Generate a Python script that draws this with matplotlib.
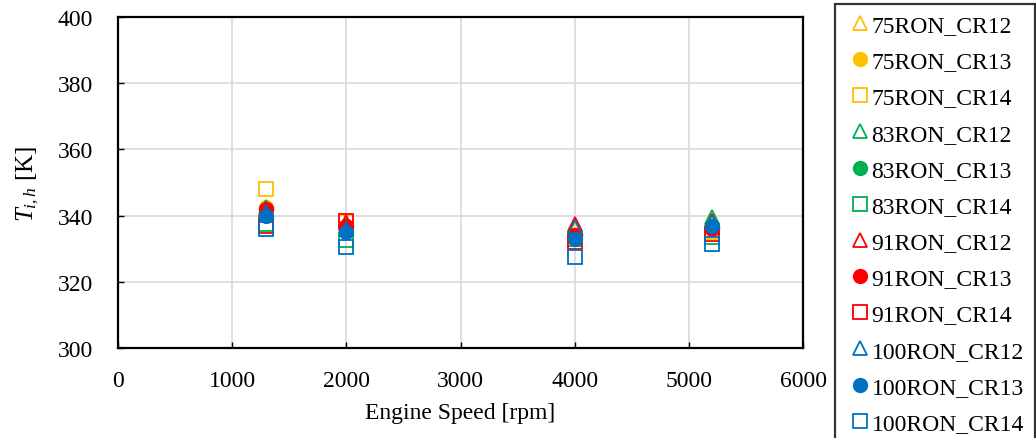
import matplotlib
matplotlib.use("Agg")
import matplotlib.pyplot as plt

plt.rcParams['font.family'] = ['Liberation Serif', 'DejaVu Serif']
plt.rcParams['mathtext.fontset'] = 'custom'
plt.rcParams['mathtext.rm'] = 'Liberation Serif'
plt.rcParams['mathtext.it'] = 'Liberation Serif:italic'

# Engine speeds [rpm]
speed = [1300, 2000, 4000, 5200]

# Intake temperature T_i,h [K] for each fuel / compression ratio
t_75_cr12 = [342.0, 337.0, 336.0, 339.0]
t_75_cr13 = [342.5, 337.0, 334.0, 337.0]
t_75_cr14 = [348.0, 338.0, 333.0, 335.0]
t_83_cr12 = [342.5, 337.5, 337.0, 339.5]
t_83_cr13 = [342.0, 336.5, 334.0, 337.0]
t_83_cr14 = [337.5, 332.5, 333.0, 333.5]
t_91_cr12 = [342.0, 338.0, 337.5, 338.5]
t_91_cr13 = [342.0, 337.0, 334.0, 336.0]
t_91_cr14 = [337.0, 338.5, 332.0, 334.5]
t_100_cr12 = [341.0, 336.0, 336.5, 338.0]
t_100_cr13 = [340.0, 335.0, 333.0, 337.0]
t_100_cr14 = [336.0, 330.5, 327.5, 331.5]

labels = ["75RON_CR12", "75RON_CR13", "75RON_CR14",
          "83RON_CR12", "83RON_CR13", "83RON_CR14",
          "91RON_CR12", "91RON_CR13", "91RON_CR14",
          "100RON_CR12", "100RON_CR13", "100RON_CR14"]
series = [t_75_cr12, t_75_cr13, t_75_cr14,
          t_83_cr12, t_83_cr13, t_83_cr14,
          t_91_cr12, t_91_cr13, t_91_cr14,
          t_100_cr12, t_100_cr13, t_100_cr14]

fuel_colors = ["#FFC000", "#00B050", "#FF0000", "#0070C0"]
markers = ["^", "o", "s"]

fig = plt.figure(figsize=(10.36, 4.39), dpi=100)
ax = fig.add_axes([0.1139, 0.205, 0.6612, 0.754])

handles = []
for i, (lab, vals) in enumerate(zip(labels, series)):
    c = fuel_colors[i // 3]
    m = markers[i % 3]
    if m == "o":
        h, = ax.plot(speed, vals, linestyle="none", marker=m, markersize=10,
                     markerfacecolor=c, markeredgecolor=c, label=lab)
    else:
        h, = ax.plot(speed, vals, linestyle="none", marker=m, markersize=10,
                     markerfacecolor="none", markeredgecolor=c,
                     markeredgewidth=1.3, label=lab)
    handles.append(h)

ax.set_xlim(0, 6000)
ax.set_ylim(300, 400)
ax.set_xticks(range(0, 6001, 1000))
ax.set_yticks(range(300, 401, 20))
ax.grid(True, color="#D9D9D9", linewidth=1.2)
ax.set_axisbelow(True)
for s in ax.spines.values():
    s.set_linewidth(1.6)
    s.set_color("black")
ax.tick_params(direction="in", length=4, width=1, labelsize=17)
ax.tick_params(axis="x", pad=16)
ax.tick_params(axis="y", pad=18)
ax.set_xlabel("Engine Speed [rpm]", fontsize=17, labelpad=8)
ax.set_ylabel(r"$T_{i,h}$ [K]", fontsize=18, labelpad=12)

leg = fig.legend(handles=handles, loc="upper left",
                 bbox_to_anchor=(835 / 1036, 1 - 5 / 439),
                 fontsize=17, frameon=True, fancybox=False,
                 edgecolor="black", handlelength=1.2, handletextpad=-0.1,
                 labelspacing=0.62, borderpad=0.45, borderaxespad=0)
leg.get_frame().set_linewidth(1.6)
leg.set_clip_on(False)

fig.savefig("out.png", dpi=100)
